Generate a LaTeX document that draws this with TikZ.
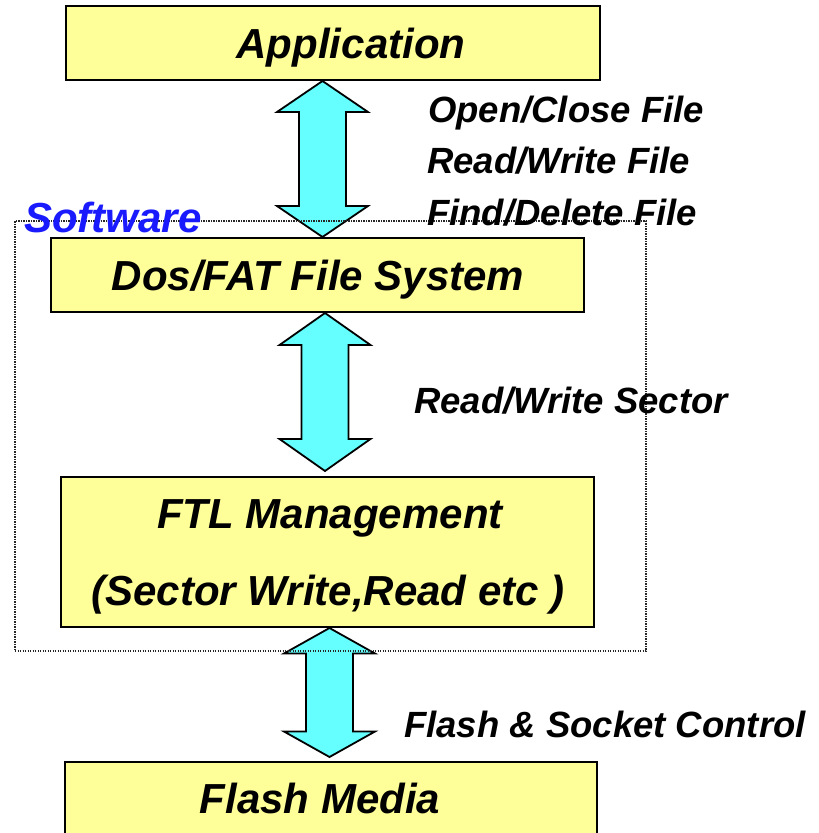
\documentclass[tikz,border=0pt]{standalone}
\usepackage{fontspec}
\setmainfont{Liberation Sans}
\usetikzlibrary{calc}
\definecolor{boxyellow}{HTML}{FFFF99}
\definecolor{arrowcyan}{HTML}{66FFFF}
\definecolor{softblue}{HTML}{1A1AFF}
\tikzset{
  box/.style={draw=black, line width=2pt, fill=boxyellow, inner sep=0pt},
  boxtext/.style={font=\fontsize{42}{48}\selectfont\bfseries\itshape, anchor=base, inner sep=0pt},
  lbl/.style={font=\fontsize{36.5}{42}\selectfont\bfseries\itshape, anchor=base west, inner sep=0pt},
  arrowsty/.style={draw=black, line width=1.8pt, fill=arrowcyan, line join=miter},
  softframe/.style={draw=black!85, line width=1.3pt, dash pattern=on 1.3pt off 1.2pt}
}
\newcommand{\dblarrow}[3]{%
  \draw[arrowsty] let \p1=(#1), \p2=(#2) in
    (\x1,\y1) -- (\x1+45.5pt,\y1-#3) -- (\x1+23.5pt,\y1-#3) -- (\x1+23.5pt,\y2+#3)
    -- (\x1+45.5pt,\y2+#3) -- (\x1,\y2) -- (\x1-45.5pt,\y2+#3) -- (\x1-23.5pt,\y2+#3)
    -- (\x1-23.5pt,\y1-#3) -- (\x1-45.5pt,\y1-#3) -- cycle;}
\begin{document}
\begin{tikzpicture}[x=1pt,y=-1pt]
\clip (0,0) rectangle (819,833);
\fill[white] (0,0) rectangle (819,833);
% boxes
\node[box, minimum width=534pt, minimum height=74pt] (app) at (333,43) {};
\node[box, minimum width=533pt, minimum height=74pt] (dos) at (317.5,275) {};
\node[box, minimum width=533pt, minimum height=150pt] (ftl) at (327.5,552) {};
\node[box, minimum width=532pt, minimum height=100pt] (flash) at (331,812) {};
% arrow end points
\coordinate (a1t) at (app.south -| 322.5,0);
\coordinate (a1b) at (dos.north -| 322.5,0);
\coordinate (a2t) at (dos.south -| 325,0);
\coordinate (a2b) at ($(ftl.north -| 325,0)+(0,-5)$);
\coordinate (a3t) at (ftl.south -| 329.5,0);
\coordinate (a3b) at ($(flash.north -| 329.5,0)+(0,-4)$);
\dblarrow{a1t}{a1b}{31pt}
\dblarrow{a2t}{a2b}{32pt}
\dblarrow{a3t}{a3b}{25.5pt}
% software frame
\node[softframe, minimum width=631pt, minimum height=430pt, inner sep=0pt] (soft) at (330.5,436) {};
\node[font=\fontsize{42}{48}\selectfont\bfseries\itshape, text=softblue, anchor=base west, inner sep=0pt] (softT) at (24,232) {Software};
% box texts
\node[boxtext] (appT) at (351,58) {Application};
\node[boxtext] (dosT) at (318,290) {Dos/FAT File System};
\node[boxtext] (ftlT1) at (330,528) {FTL Management};
\node[boxtext] (ftlT2) at (328,605) {(Sector Write,Read etc )};
\node[boxtext] (flashT) at (320,813) {Flash Media};
% labels
\node[lbl] (l1) at (428,122) {Open/Close File};
\node[lbl] (l2) at (427,173) {Read/Write File};
\node[lbl] (l3) at (427,225) {Find/Delete File};
\node[lbl] (l4) at (414,413) {Read/Write Sector};
\node[lbl] (l5) at (404,737) {Flash \& Socket Control};
\end{tikzpicture}
\end{document}
